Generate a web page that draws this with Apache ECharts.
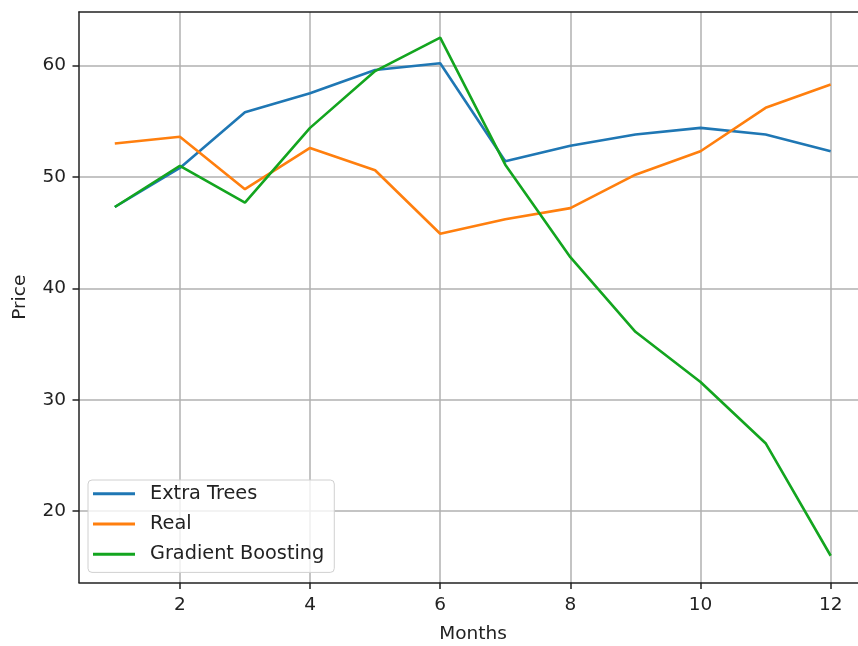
<!DOCTYPE html>
<html>
<head>
<meta charset="utf-8">
<script src="https://cdn.jsdelivr.net/npm/echarts@6/dist/echarts.min.js"></script>
<style>html,body{margin:0;padding:0;background:#fff;}#c{width:858px;height:646px;}</style>
</head>
<body>
<div id="c"></div>
<script>
const months = [1, 2, 3, 4, 5, 6, 7, 8, 9, 10, 11, 12];
const extraTrees = [47.3, 50.8, 55.8, 57.5, 59.6, 60.2, 51.4, 52.8, 53.8, 54.4, 53.8, 52.3];
const real = [53.0, 53.6, 48.9, 52.6, 50.6, 44.9, 46.2, 47.2, 50.2, 52.3, 56.2, 58.3];
const gradientBoosting = [47.3, 51.0, 47.7, 54.4, 59.5, 62.5, 51.1, 42.8, 36.1, 31.6, 26.1, 16.0];
const xTicks = [2, 4, 6, 8, 10, 12];
const yTicks = [20, 30, 40, 50, 60];
const seriesNames = ['Extra Trees', 'Real', 'Gradient Boosting'];
const colors = ['#1f77b4', '#ff7f0e', '#13a51f'];

const font = 'DejaVu Sans';
const textColor = '#222';
const chart = echarts.init(document.getElementById('c'), null, {renderer: 'canvas'});
const pair = (arr) => months.map((m, i) => [m, arr[i]]);
const allSeries = [extraTrees, real, gradientBoosting];

chart.setOption({
  animation: false,
  backgroundColor: '#fff',
  textStyle: {fontFamily: font},
  grid: {left: 79, right: 0, top: 12, bottom: 63.5, containLabel: false, outerBoundsMode: 'none'},
  legend: {
    left: 88, top: 480, orient: 'vertical',
    data: seriesNames.map(n => ({name: n, icon: 'rect'})),
    itemWidth: 42, itemHeight: 3, itemGap: 10,
    padding: [3.5, 10, 8, 5],
    backgroundColor: 'rgba(255,255,255,0.8)',
    borderColor: '#d0d0d0', borderWidth: 1, borderRadius: 4,
    textStyle: {fontFamily: font, fontSize: 19.3, color: textColor, lineHeight: 20.3, padding: [0, 0, 0, 10]}
  },
  xAxis: [{
    type: 'value', min: 0.45, max: 12.42, position: 'bottom',
    name: 'Months', nameLocation: 'middle', nameGap: 42,
    nameTextStyle: {fontFamily: font, fontSize: 18.5, color: textColor, padding: [0, 0, 0, 9]},
    axisLine: {show: true, onZero: false, lineStyle: {color: '#222', width: 1.5}},
    axisTick: {show: true, inside: false, length: 6.5, customValues: xTicks, lineStyle: {color: '#222', width: 1.5}},
    axisLabel: {show: true, margin: 13, customValues: xTicks, fontFamily: font, fontSize: 18.5, color: textColor},
    splitLine: {show: true, lineStyle: {color: '#b0b0b0', width: 1.5}}
  }, {
    type: 'value', min: 0.45, max: 12.42, position: 'top',
    axisLine: {show: true, onZero: false, lineStyle: {color: '#222', width: 1.5}},
    axisTick: {show: false}, axisLabel: {show: false}, splitLine: {show: false}
  }],
  yAxis: {
    type: 'value', min: 13.6, max: 64.8,
    name: 'Price', nameLocation: 'middle', nameGap: 49, nameRotate: 90,
    nameTextStyle: {fontFamily: font, fontSize: 18.5, color: textColor},
    axisLine: {show: true, onZero: false, lineStyle: {color: '#222', width: 1.5}},
    axisTick: {show: true, inside: false, length: 6.5, customValues: yTicks, lineStyle: {color: '#222', width: 1.5}},
    axisLabel: {show: true, margin: 13, customValues: yTicks, fontFamily: font, fontSize: 18.5, color: textColor},
    splitLine: {show: true, lineStyle: {color: '#b0b0b0', width: 1.5}}
  },
  series: seriesNames.map((n, i) => ({
    name: n, type: 'line', data: pair(allSeries[i]), xAxisIndex: 0,
    symbol: 'none', color: colors[i],
    lineStyle: {color: colors[i], width: 2.6}
  }))
});
</script>
</body>
</html>
